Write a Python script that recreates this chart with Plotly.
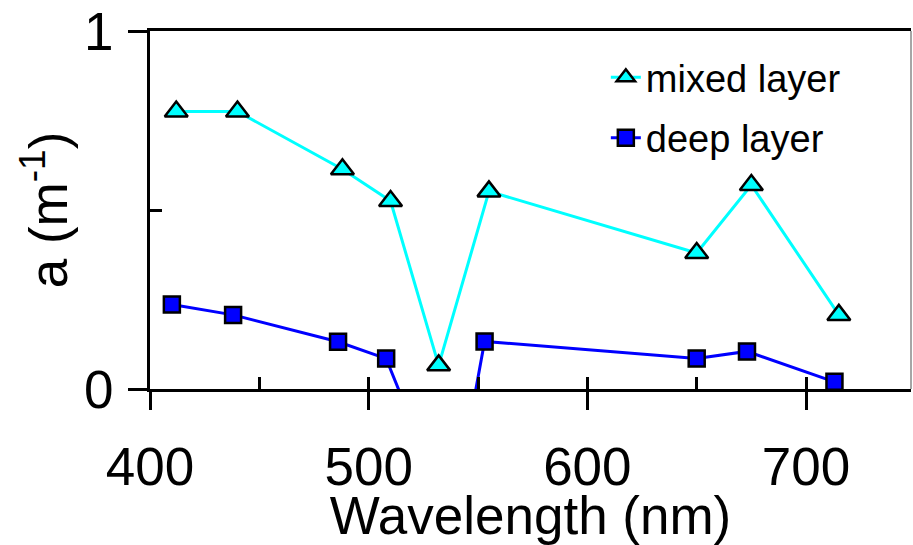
import plotly.graph_objects as go

# ---- data ----
wavelength_mixed = [412, 440, 488, 510, 532, 555, 650, 675, 715]
a_mixed = [0.775, 0.775, 0.614, 0.525, 0.066, 0.552, 0.380, 0.570, 0.207]

wavelength_deep = [410, 438, 486, 508, 538, 553, 650, 673, 713]
a_deep = [0.236, 0.207, 0.132, 0.085, -0.37, 0.133, 0.085, 0.105, 0.020]

x_range = [400, 748]
y_range = [0, 1]
x_major = [400, 500, 600, 700]
x_major_labels = ["400", "500", "600", "700"]
y_major = [0, 1]
y_major_labels = ["0", "1"]

FONT = "Liberation Sans, Arial, Helvetica, sans-serif"
CYAN = "#00FFFF"
BLUE = "#0000FF"

fig = go.Figure()

fig.add_trace(go.Scatter(
    x=wavelength_mixed, y=a_mixed, name="mixed layer",
    mode="lines+markers", legendgroup="g1",
    line=dict(color=CYAN, width=3),
    marker=dict(symbol="triangle-up", size=20, color=CYAN,
                line=dict(color="black", width=2.5)),
))
fig.add_trace(go.Scatter(
    x=wavelength_deep, y=a_deep, name="deep layer",
    mode="lines+markers", legendgroup="g2",
    line=dict(color=BLUE, width=3),
    marker=dict(symbol="square", size=16, color=BLUE,
                line=dict(color="black", width=2.5)),
))
# empty helper traces so the overlaid minor-tick axes are drawn
fig.add_trace(go.Scatter(x=[], y=[], xaxis="x2", yaxis="y", showlegend=False,
                         hoverinfo="skip"))
fig.add_trace(go.Scatter(x=[], y=[], xaxis="x", yaxis="y2", showlegend=False,
                         hoverinfo="skip"))

common = dict(showgrid=False, zeroline=False)

fig.update_layout(
    width=913, height=545,
    margin=dict(l=150, r=2, t=26, b=156),
    paper_bgcolor="white", plot_bgcolor="white",
    font=dict(family=FONT, color="black"),
    showlegend=True,
    legend=dict(
        x=0.599, y=0.958, xanchor="left", yanchor="top",
        bgcolor="rgba(0,0,0,0)", borderwidth=0,
        font=dict(size=38, family=FONT, color="black"),
        tracegroupgap=8,
    ),
    xaxis=dict(
        range=x_range, tickmode="array", tickvals=x_major, ticktext=x_major_labels,
        ticks="outside", ticklen=18, tickwidth=3, tickcolor="black",
        showline=True, linecolor="black", linewidth=3, mirror=True,
        tickfont=dict(size=53, family=FONT, color="black"),
        ticklabelstandoff=11, ticklabeloverflow="allow",
        title=dict(text="Wavelength (nm)", font=dict(size=53, family=FONT, color="black"),
                   standoff=0),
        **common,
    ),
    xaxis2=dict(
        range=x_range, overlaying="x", anchor="y", side="bottom",
        tickmode="linear", tick0=400, dtick=50,
        ticks="inside", ticklen=12, tickwidth=3, tickcolor="black",
        showticklabels=False, showline=False, **common,
    ),
    yaxis=dict(
        range=y_range, tickmode="array", tickvals=y_major, ticktext=y_major_labels,
        ticks="outside", ticklen=19, tickwidth=3, tickcolor="black",
        showline=True, linecolor="black", linewidth=3, mirror=False,
        tickfont=dict(size=53, family=FONT, color="black"),
        ticklabelstandoff=4, ticklabeloverflow="allow",
        title=dict(text="a (m<sup>-1</sup>)", font=dict(size=53, family=FONT, color="black"),
                   standoff=0),
        **common,
    ),
    yaxis2=dict(
        range=y_range, overlaying="y", anchor="x", side="left",
        tickmode="linear", tick0=0, dtick=0.5,
        ticks="inside", ticklen=12, tickwidth=3, tickcolor="black",
        showticklabels=False, showline=False, **common,
    ),
    shapes=[dict(type="line", xref="paper", yref="paper", x0=1, x1=1, y0=0, y1=1,
                 line=dict(color="#888888", width=1.5))],
)

fig.write_html("out.html")
